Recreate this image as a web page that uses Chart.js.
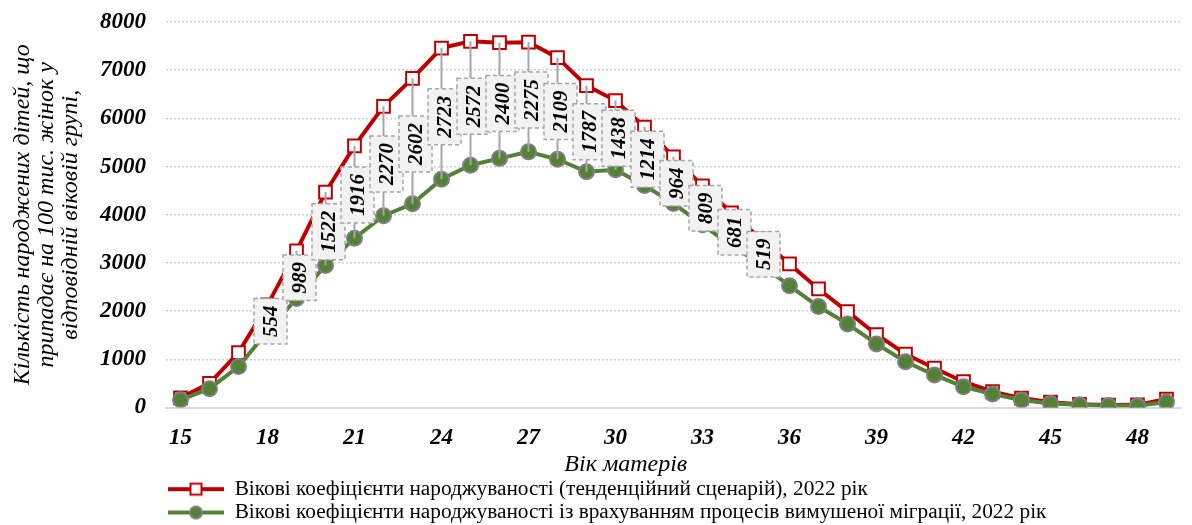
<!DOCTYPE html>
<html lang="uk">
<head>
<meta charset="utf-8">
<title>Вікові коефіцієнти народжуваності</title>
<script src="https://cdn.jsdelivr.net/npm/chart.js@4.4.1/dist/chart.umd.min.js"></script>
<style>
    html, body { margin: 0; padding: 0; background: #fff; }
    #wrap { width: 1192px; height: 525px; }
</style>
</head>
<body>
<div id="wrap"><canvas id="grafico" width="1192" height="525"></canvas></div>
<script>
// Вік матерів (категорії осі X)
const vik = [15, 16, 17, 18, 19, 20, 21, 22, 23, 24, 25, 26, 27, 28, 29, 30, 31, 32,
    33, 34, 35, 36, 37, 38, 39, 40, 41, 42, 43, 44, 45, 46, 47, 48, 49];

// Тенденційний сценарій, 2022
const tendentsiinyi = [200, 500, 1140, 2130, 3250, 4470, 5430, 6250, 6830, 7460,
    7600, 7570, 7580, 7260, 6680, 6370, 5820, 5200, 4600, 4040,
    3500, 2980, 2460, 1990, 1515, 1110, 815, 535, 330, 195,
    110, 65, 50, 55, 175];

// З урахуванням вимушеної міграції, 2022
const zMigratsiieiu = [160, 390, 850, 1576, 2261, 2948, 3514, 3980, 4228, 4737,
    5028, 5170, 5305, 5151, 4893, 4932, 4606, 4236, 3791, 3359,
    2981, 2525, 2095, 1735, 1320, 950, 675, 430, 280, 155,
    85, 55, 40, 35, 115];

// Підписи різниці між сценаріями
const riznytsia = [null, null, null, 554, 989, 1522, 1916, 2270, 2602, 2723,
    2572, 2400, 2275, 2109, 1787, 1438, 1214, 964, 809, 681,
    519, null, null, null, null, null, null, null, null, null,
    null, null, null, null, null];

const yTyky = [0, 1000, 2000, 3000, 4000, 5000, 6000, 7000, 8000];

const SHRYFT = "'Liberation Serif', 'Times New Roman', serif";
const CHERVONYI = '#c00000';
const ZELENYI = '#538135';

// картинки для легенди (лінія з маркером)
function zrobytyZrazok(kolir, marker) {
    const c = document.createElement('canvas');
    c.width = 56; c.height = 16;
    const g = c.getContext('2d');
    g.strokeStyle = kolir;
    g.lineWidth = 4;
    g.beginPath(); g.moveTo(0, 8); g.lineTo(56, 8); g.stroke();
    g.lineWidth = 2;
    if (marker === 'kvadrat') {
        g.fillStyle = '#fff';
        g.strokeStyle = kolir;
        g.fillRect(22.5, 2.5, 11, 11);
        g.strokeRect(22.5, 2.5, 11, 11);
    } else {
        g.fillStyle = kolir;
        g.strokeStyle = '#7f7f7f';
        g.beginPath(); g.arc(28, 8, 6, 0, Math.PI * 2); g.fill(); g.stroke();
    }
    return c;
}
const zrazky = [zrobytyZrazok(CHERVONYI, 'kvadrat'), zrobytyZrazok(ZELENYI, 'kolo')];

// підписи різниці у сірих рамках з виносками
const pidpysyRiznytsi = {
    id: 'pidpysyRiznytsi',
    afterDatasetsDraw(chart) {
        const ctx = chart.ctx;
        const chervoni = chart.getDatasetMeta(0).data;
        const zeleni = chart.getDatasetMeta(1).data;
        ctx.save();
        ctx.font = "italic bold 21px " + SHRYFT;
        riznytsia.forEach((znach, i) => {
            if (znach === null) return;
            const x = chervoni[i].x;
            const y1 = chervoni[i].y;
            const y2 = zeleni[i].y;
            ctx.setLineDash([]);
            ctx.strokeStyle = '#a6a6a6';
            ctx.lineWidth = 2;
            ctx.beginPath(); ctx.moveTo(x, y1); ctx.lineTo(x, y2); ctx.stroke();

            const tekst = String(znach);
            const shyryna = 33;
            const vysota = ctx.measureText(tekst).width + 14;
            const cx = x + 3;
            const cy = (y1 + y2) / 2 + 3;
            ctx.fillStyle = '#f2f2f2';
            ctx.fillRect(cx - shyryna / 2, cy - vysota / 2, shyryna, vysota);
            ctx.setLineDash([4, 3]);
            ctx.lineWidth = 1.5;
            ctx.strokeRect(cx - shyryna / 2, cy - vysota / 2, shyryna, vysota);

            ctx.save();
            ctx.translate(cx, cy);
            ctx.rotate(-Math.PI / 2);
            ctx.fillStyle = '#000';
            ctx.textAlign = 'center';
            ctx.textBaseline = 'middle';
            ctx.fillText(tekst, 0, 1);
            ctx.restore();
        });
        ctx.restore();
    }
};

// назва осі X (зсунута ліворуч, як в оригіналі)
const nazvaOsiX = {
    id: 'nazvaOsiX',
    afterDraw(chart) {
        const {ctx, chartArea} = chart;
        ctx.save();
        ctx.font = "italic 24px " + SHRYFT;
        ctx.fillStyle = '#000';
        ctx.textAlign = 'center';
        ctx.textBaseline = 'middle';
        const x = chartArea.left + (chartArea.right - chartArea.left) * 0.453;
        ctx.fillText('Вік матерів', x, chartArea.bottom + 57);
        ctx.restore();
    }
};

document.addEventListener('DOMContentLoaded', function() {
    const ctx = document.getElementById('grafico').getContext('2d');
    new Chart(ctx, {
        type: 'line',
        data: {
            labels: vik,
            datasets: [{
                label: 'Вікові коефіцієнти народжуваності (тенденційний сценарій), 2022 рік',
                data: tendentsiinyi,
                borderColor: CHERVONYI,
                borderWidth: 4,
                pointStyle: 'rect',
                pointRadius: 9,
                pointBackgroundColor: '#fff',
                pointBorderColor: CHERVONYI,
                pointBorderWidth: 2,
                tension: 0,
                order: 1
            }, {
                label: 'Вікові коефіцієнти народжуваності із врахуванням процесів вимушеної міграції, 2022 рік',
                data: zMigratsiieiu,
                borderColor: ZELENYI,
                borderWidth: 4,
                pointStyle: 'circle',
                pointRadius: 7.5,
                pointBackgroundColor: ZELENYI,
                pointBorderColor: '#7f7f7f',
                pointBorderWidth: 2,
                tension: 0,
                order: 0
            }]
        },
        options: {
            responsive: false,
            animation: false,
            layout: { padding: { top: 0, right: 1, bottom: 0, left: 0 } },
            plugins: {
                tooltip: { enabled: false },
                legend: {
                    position: 'bottom',
                    align: 'start',
                    fullSize: false,
                    maxHeight: 48.5,
                    labels: {
                        usePointStyle: true,
                        pointStyleWidth: 56,
                        boxHeight: 16,
                        padding: 2,
                        color: '#000',
                        font: { family: SHRYFT, size: 21.3 },
                        generateLabels(chart) {
                            return chart.data.datasets.map((ds, i) => ({
                                text: ds.label,
                                pointStyle: zrazky[i],
                                fillStyle: ds.borderColor,
                                strokeStyle: ds.borderColor,
                                lineWidth: 0,
                                hidden: false,
                                datasetIndex: i
                            }));
                        }
                    }
                }
            },
            scales: {
                x: {
                    offset: true,
                    grid: { display: false, drawTicks: false },
                    border: { color: '#d9d9d9', width: 2 },
                    ticks: {
                        autoSkip: false,
                        maxRotation: 0,
                        padding: 17,
                        color: '#000',
                        font: { family: SHRYFT, size: 23, style: 'italic', weight: 'bold' },
                        callback: function(v, i) {
                            return (vik[i] - 15) % 3 === 0 ? String(vik[i]) : '';
                        }
                    },
                    afterFit(scale) { scale.height = 69; }
                },
                y: {
                    min: 0,
                    max: 8000,
                    afterBuildTicks(scale) { scale.ticks = yTyky.map(v => ({ value: v })); },
                    grid: { color: '#cfcfcf', lineWidth: 1.5, drawTicks: false },
                    border: { display: false, dash: [2, 2] },
                    ticks: {
                        padding: 20,
                        color: '#000',
                        font: { family: SHRYFT, size: 23, style: 'italic', weight: 'bold' },
                        callback: function(v) { return String(v); }
                    },
                    title: {
                        display: true,
                        text: ['Кількість народжених дітей, що',
                               'припадає на 100 тис. жінок у',
                               'відповідній віковій групі,'],
                        color: '#000',
                        font: { family: SHRYFT, size: 24, style: 'italic', lineHeight: 1.0 },
                        padding: { top: 11, bottom: 0 }
                    },
                    afterFit(scale) {
                        scale.width = 166;
                        scale.paddingTop = 22;
                        scale.paddingBottom = 0;
                    }
                }
            }
        },
        plugins: [pidpysyRiznytsi, nazvaOsiX]
    });
});
</script>
</body>
</html>
